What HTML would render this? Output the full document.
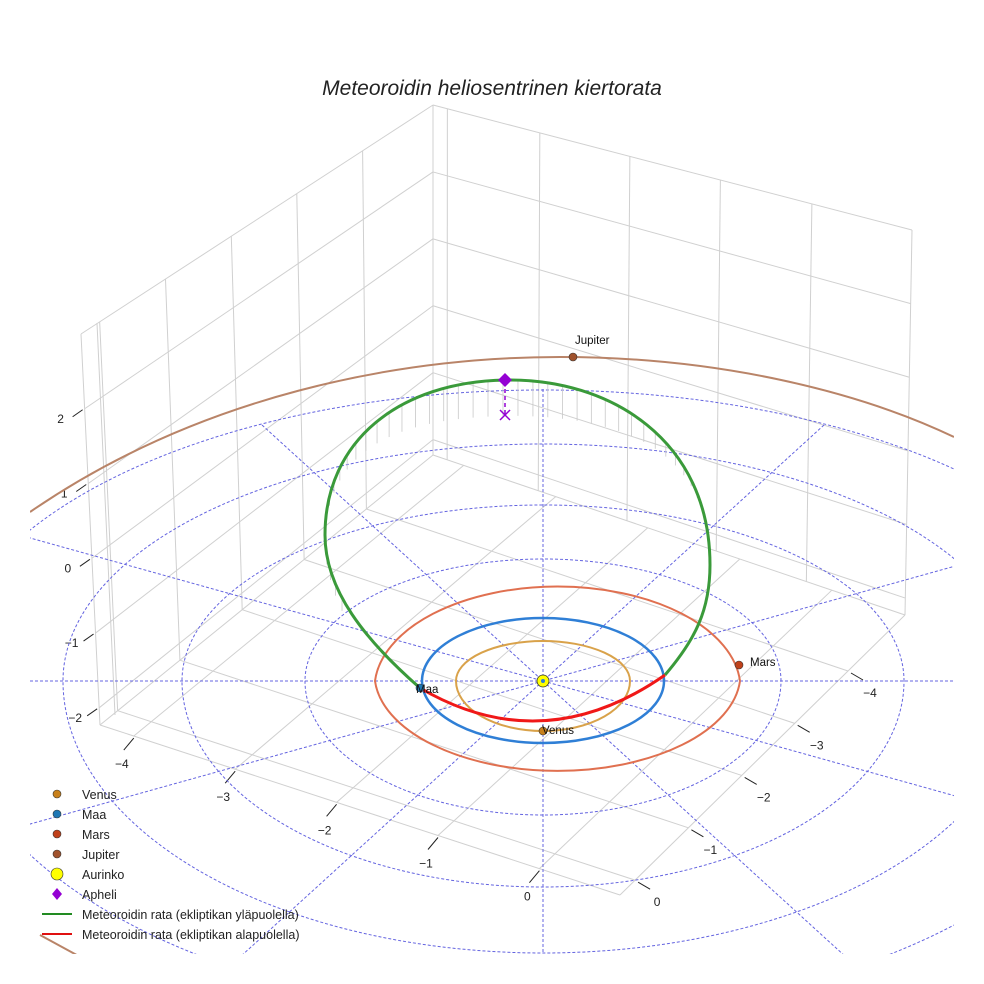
<!DOCTYPE html>
<html><head><meta charset="utf-8"><style>
html,body{margin:0;padding:0;background:#fff;width:984px;height:984px;overflow:hidden;}
svg{display:block;font-family:"Liberation Sans",sans-serif;}
</style></head><body>
<svg id="s" width="984" height="984" viewBox="0 0 984 984" xmlns="http://www.w3.org/2000/svg">
<defs><clipPath id="c"><rect x="30" y="60" width="924" height="894"/></clipPath></defs>
<text x="492" y="95" text-anchor="middle" font-size="21" font-style="italic" fill="#222">Meteoroidin heliosentrinen kiertorata</text>
<g id="grid" stroke="#d0d0d0" stroke-width="1" fill="none"></g>
<g id="ticks" stroke="#222" stroke-width="1"></g>
<g id="tlab" font-size="12" fill="#222" text-anchor="middle"></g>
<g id="disc" clip-path="url(#c)" stroke="#6464e0" stroke-width="1" stroke-dasharray="3,2" fill="none"></g>
<g id="drops" stroke="#c8c8c8" stroke-width="0.8"></g>
<g clip-path="url(#c)" fill="none">
<path d="M30,512 C200,395 400,357 560,357 C720,357 860,392 954,437" stroke="#b98468" stroke-width="2"/>
<path d="M40,935 L130,984" stroke="#b98468" stroke-width="2"/>
<path d="M630,681 A87,50 0 0 1 456,681 A87,40 0 0 1 630,681" stroke="#d9a24a" stroke-width="2"/>
<path d="M664,681 A121,62 0 0 1 422,681 A121,63 0 0 1 664,681" stroke="#2f7fd6" stroke-width="2.5"/>
<path d="M740,681 A183,97 0 0 1 375,681 A183,102 0 0 1 740,681" stroke="#e07050" stroke-width="2"/>
<path id="green" d="M420,688 C365,640 325,590 325,535 C325,440 400,382 505,380 C610,378 710,440 710,565 C710,610 695,640 665,675" stroke="#3a9a3a" stroke-width="3"/>
<path d="M420,688 Q543,760 665,675" stroke="#f01818" stroke-width="3"/>
</g>
<line x1="505" y1="382" x2="505" y2="414" stroke="#9400d3" stroke-width="1.5" stroke-dasharray="4,3"/>
<path d="M500,410 L510,420 M510,410 L500,420" stroke="#9400d3" stroke-width="1.5"/>
<path d="M505,373 L512,380 L505,387 L498,380 Z" fill="#9400d3"/>
<circle cx="573" cy="357" r="4" fill="#a0522d" stroke="#333" stroke-width="0.6"/>
<circle cx="739" cy="665" r="4" fill="#c0411a" stroke="#333" stroke-width="0.6"/>
<circle cx="543" cy="731" r="4" fill="#c8801a" stroke="#333" stroke-width="0.6"/>
<circle cx="420" cy="688" r="4" fill="#1f77b4" stroke="#333" stroke-width="0.6"/>
<circle cx="543" cy="681" r="6" fill="#ffff00" stroke="#333" stroke-width="0.8"/>
<circle cx="543" cy="681" r="2" fill="#2f7fd6"/>
<g font-size="11.5" fill="#111">
<text x="575" y="344">Jupiter</text>
<text x="750" y="666">Mars</text>
<text x="416" y="693">Maa</text>
<text x="542" y="734">Venus</text>
</g>
<g font-size="12.5" fill="#222">
<circle cx="57" cy="794" r="4" fill="#c8801a" stroke="#333" stroke-width="0.6"/><text x="82" y="799">Venus</text>
<circle cx="57" cy="814" r="4" fill="#1f77b4" stroke="#333" stroke-width="0.6"/><text x="82" y="819">Maa</text>
<circle cx="57" cy="834" r="4" fill="#c0411a" stroke="#333" stroke-width="0.6"/><text x="82" y="839">Mars</text>
<circle cx="57" cy="854" r="4" fill="#a0522d" stroke="#333" stroke-width="0.6"/><text x="82" y="859">Jupiter</text>
<circle cx="57" cy="874" r="6" fill="#ffff00" stroke="#333" stroke-width="0.6"/><text x="82" y="879">Aurinko</text>
<path d="M57,888 L62,894 L57,900 L52,894 Z" fill="#9400d3"/><text x="82" y="899">Apheli</text>
<line x1="42" y1="914" x2="72" y2="914" stroke="#228b22" stroke-width="2"/><text x="82" y="919">Meteoroidin rata (ekliptikan yläpuolella)</text>
<line x1="42" y1="934" x2="72" y2="934" stroke="#e01010" stroke-width="2"/><text x="82" y="939">Meteoroidin rata (ekliptikan alapuolella)</text>
</g>
</svg>
<script>
var NS="http://www.w3.org/2000/svg";
function L(g,x1,y1,x2,y2){var e=document.createElementNS(NS,"line");e.setAttribute("x1",x1);e.setAttribute("y1",y1);e.setAttribute("x2",x2);e.setAttribute("y2",y2);document.getElementById(g).appendChild(e);}
function T(x,y,s){var e=document.createElementNS(NS,"text");e.setAttribute("x",x);e.setAttribute("y",y);e.textContent=s;document.getElementById("tlab").appendChild(e);}
function lp(a,b,t){return [a[0]+(b[0]-a[0])*t,a[1]+(b[1]-a[1])*t];}
var A=[100,725],B=[620,895],C=[905,615],D=[433,455],At=[81,334],Dt=[433,105],Ct=[912,230];
var tb=[0.053,0.24,0.427,0.613,0.8], ta=[0.065,0.26,0.455,0.65,0.845], tw=[0.03,0.223,0.411,0.6,0.791];
var g="grid";
L(g,At[0],At[1],Dt[0],Dt[1]);L(g,Dt[0],Dt[1],Ct[0],Ct[1]);
L(g,A[0],A[1],At[0],At[1]);L(g,D[0],D[1],Dt[0],Dt[1]);L(g,C[0],C[1],Ct[0],Ct[1]);
L(g,A[0],A[1],D[0],D[1]);L(g,D[0],D[1],C[0],C[1]);
L(g,A[0]+15,A[1]-10,At[0]+16,At[1]-11);
L(g,A[0],A[1],B[0],B[1]);L(g,B[0],B[1],C[0],C[1]);
tb.forEach(function(t){var b=lp(A,D,t),u=lp(At,Dt,t);L(g,b[0],b[1],u[0],u[1]);
 var p=lp(B,C,t);L(g,p[0],p[1],b[0],b[1]);});
ta.forEach(function(t){var b=lp(D,C,t);var p=lp(A,B,t);L(g,p[0],p[1],b[0],b[1]);});
tw.forEach(function(t){var b=lp(D,C,t),u=lp(Dt,Ct,t);L(g,b[0],b[1],u[0],u[1]);});
[-2,-1,0,1,2].forEach(function(z){var s=(z+2.23)/5.23;
 var a=lp(A,At,s),d=lp(D,Dt,s),c=lp(C,Ct,s);L(g,a[0],a[1],d[0],d[1]);L(g,d[0],d[1],c[0],c[1]);
 L("ticks",a[0]-2,a[1]+1,a[0]-12,a[1]+8);T(a[0]-24,a[1]+14,z<0?"\u2212"+(-z):""+z);});
var lab=[-4,-3,-2,-1,0];
ta.forEach(function(t,i){var p=lp(A,B,t);L("ticks",p[0],p[1]+2,p[0]-10,p[1]+14);T(p[0]-12,p[1]+32,lab[i]<0?"\u2212"+(-lab[i]):"0");});
tb.forEach(function(t,i){var p=lp(B,C,t);L("ticks",p[0]+3,p[1]+2,p[0]+15,p[1]+9);T(p[0]+22,p[1]+26,lab[4-i]<0?"\u2212"+(-lab[4-i]):"0");});
var cx=543,cy=681;
function E(r,kt,kb){var p=document.createElementNS(NS,"path");
 p.setAttribute("d","M"+(cx+r)+","+cy+" A"+r+","+(r*kt)+" 0 0 0 "+(cx-r)+","+cy+" A"+r+","+(r*kb)+" 0 0 0 "+(cx+r)+","+cy);
 document.getElementById("disc").appendChild(p);}
[[238,122,134],[361,176,206],[480,237,272],[600,291,335]].forEach(function(q){E(q[0],q[1]/q[0],q[2]/q[0]);});
L("disc",30,cy,954,cy);L("disc",cx,389,cx,954);
[[262,425],[23,536],[824,425],[1063,536]].forEach(function(p){var dx=cx-p[0],dy=cy-p[1];var k=(954-cy)/dy;L("disc",p[0],p[1],cx+dx*k*1.2,cy+dy*k*1.2);});
var gp=document.getElementById("green"),len=gp.getTotalLength();
for(var i=0;i<60;i++){var pt=gp.getPointAtLength(len*i/59);
 if(pt.y>600)continue;var d=(pt.x-505)/205;var h=36*(1-d*d);if(h<2)continue;L("drops",pt.x,pt.y,pt.x,pt.y+h);}
</script>
</body></html>
